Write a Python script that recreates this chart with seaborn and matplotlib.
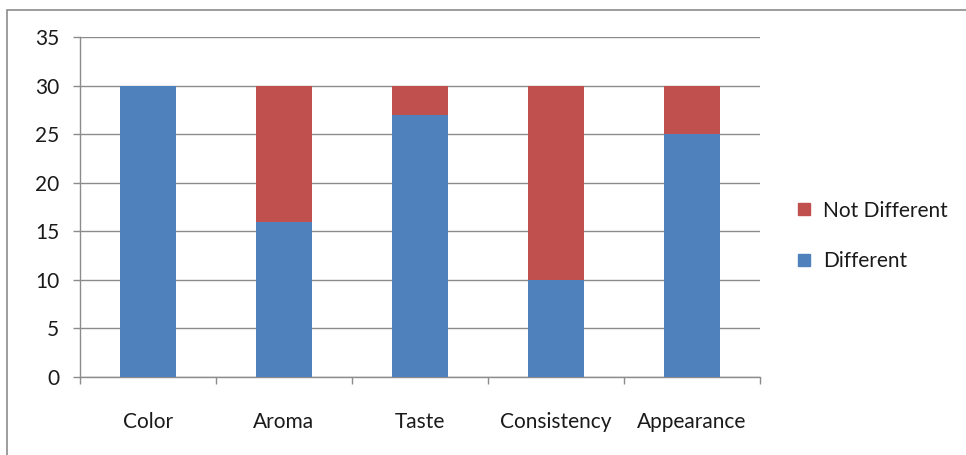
import matplotlib
matplotlib.use("Agg")
import matplotlib.pyplot as plt
from matplotlib.patches import Rectangle
from matplotlib.lines import Line2D
import seaborn as sns
import pandas as pd
import numpy as np

# Survey results per attribute
categories = ["Color", "Aroma", "Taste", "Consistency", "Appearance"]
different = [30, 16, 27, 10, 25]
not_different = [0, 14, 3, 20, 5]
y_ticks = [0, 5, 10, 15, 20, 25, 30, 35]

blue = "#4F81BD"
red = "#C0504D"
grid_gray = "#8C8C8C"

sns.set_theme(style="white")
plt.rcParams["font.family"] = ["Lato", "DejaVu Sans"]

df = pd.DataFrame({
    "category": categories,
    "Different": different,
    "Not Different": not_different,
})
df["total"] = df["Different"] + df["Not Different"]

fig = plt.figure(figsize=(9.66, 4.55), dpi=100)
ax = fig.add_axes([0.0828, 0.1714, 0.7039, 0.7473])

# Stacked bars: full total in red, the "Different" part overlaid in blue
sns.barplot(data=df, x="category", y="total", color=red, width=0.41,
            saturation=1, ax=ax, linewidth=0, zorder=3)
sns.barplot(data=df, x="category", y="Different", color=blue, width=0.41,
            saturation=1, ax=ax, linewidth=0, zorder=4)

ax.set_xlim(-0.5, len(categories) - 0.5)
ax.set_ylim(0, 35)
ax.set_yticks(y_ticks)
ax.set_xlabel("")
ax.set_ylabel("")

# Horizontal gridlines
ax.yaxis.grid(True, color=grid_gray, linewidth=1.0)
ax.xaxis.grid(False)
ax.set_axisbelow(True)

for side in ["top", "right"]:
    ax.spines[side].set_visible(False)
for side in ["left", "bottom"]:
    ax.spines[side].set_color(grid_gray)
    ax.spines[side].set_linewidth(1.0)

ax.tick_params(axis="y", which="major", direction="out", length=5, width=1,
               color=grid_gray, pad=10, labelsize=15, labelcolor="#1a1a1a", left=True)
# Category labels centered, tick marks on category boundaries
ax.tick_params(axis="x", which="major", length=0, pad=25, labelsize=15,
               labelcolor="#1a1a1a")
ax.set_xticks(np.arange(-0.5, len(categories)), minor=True)
ax.tick_params(axis="x", which="minor", direction="out", length=5, width=1,
               color=grid_gray, bottom=True)

# Legend
handles = [
    Line2D([0], [0], marker="s", linestyle="", markersize=9,
           markerfacecolor=red, markeredgecolor=red, label="Not Different"),
    Line2D([0], [0], marker="s", linestyle="", markersize=9,
           markerfacecolor=blue, markeredgecolor=blue, label="Different"),
]
fig.legend(handles=handles, loc="center left", bbox_to_anchor=(0.8, 0.482),
           frameon=False, fontsize=15, handletextpad=0.3, labelspacing=1.45,
           handlelength=1.2, labelcolor="#1a1a1a")

# Outer chart frame (open towards the right and bottom edges)
fig.patches.append(Rectangle((7 / 966, -0.05), 1.1, 1 - 10 / 455 + 0.05,
                             transform=fig.transFigure, fill=False,
                             edgecolor="#8C8C8C", linewidth=1.2))

fig.savefig("out.png", dpi=100, facecolor="white")
